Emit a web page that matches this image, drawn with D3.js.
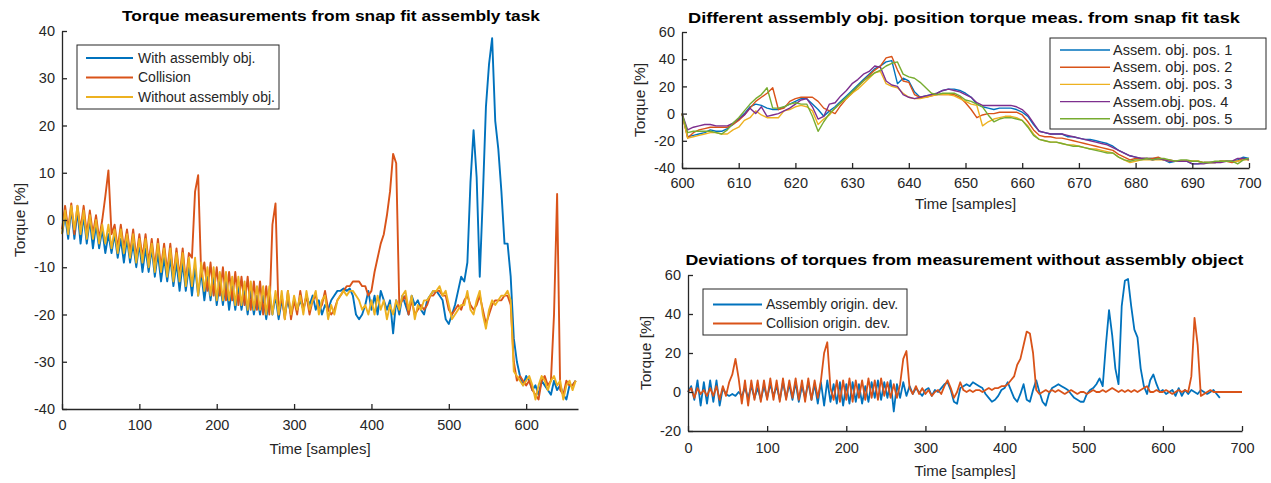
<!DOCTYPE html>
<html>
<head>
<meta charset="utf-8">
<script src="https://cdn.jsdelivr.net/npm/d3@7"></script>
<style>
body { margin: 0; background: #fff; }
svg text { font-family: "Liberation Sans", Arial, Helvetica, sans-serif; fill: #262626; }
</style>
</head>
<body>
<svg id="fig" width="1271" height="483"></svg>
<script>
// ---- left plot: torque, one value every 4 samples starting at 0
var sampleStep = 4;
var withObj = [-3,1,-4,2.5,-4,2,-5,1,-5,0, -6,-1,-6,-2,-7,-3,-7,-3,-8,-4, -9,-4,-9,-5,-10,-5,-11,-6,-11,-6,
  -12,-7,-13,-8,-13,-8,-14,-9,-15,-9, -15,-10,-16,-10,-16,-11,-17,-12,-17,-12, -18,-13,-18,-13,-19,-14,-19,-14,-19,-15,
  -20,-15,-20,-16,-20,-16,-21,-16,-20,-16, -21,-17,-20,-17,-20,
  -17,-19,-17,-19,-16,-18,-16,-19,-17,-20, -18,-19,-17,-16,-15,-15,-14.5,-15,-14.5,-16,
  -20,-21,-20,-18,-15,-19,-16,-20,-15,-17, -19,-17,-24,-17,-20,-16,-18,-20,-16,-18,
  -17,-19,-20,-17,-16,-15,-15,-16,-17,-21, -22,-20,-18,-15,-12,-13,-9,8,19,9,
  -12,5,24,33,38.5,21,15,6,-5,-5, -12,-25,-30,-33,-35,-33,-34,-36,-35,-37,
  -34,-35,-36,-37,-34,-36,-35,-37,-38,-35, -35,-34];
var collision = [-2,3,-2,3.5,-3,3,-2,3,-3,2, -3,1,-4,0,5,10.5,-3,-1,-6,-1, -6,-2,-7,-2,-8,-3,-8,-3,-9,-4,
  -10,-4,-10,-5,-11,-5,-12,-6,-12,-6, -13,-7,-8,6,9.5,-12,-9,-15,-9,-16, -10,-16,-10,-17,-11,-17,-11,-18,-12,-18,
  -12,-19,-13,-19,-13,-20,-14,-20,-1,3.5, -20,-16,-21,-15,-21,
  -17,-20,-15,-19,-16,-20,-17,-16,-19,-18, -15,-19,-20,-19,-17,-16,-15,-14,-14,-13,
  -13,-13,-14,-14,-16,-15,-11,-8,-5,-3, 1,6,14,12,-18,-17,-16,-20,-17,-20,
  -19,-18,-19,-18,-16,-16,-15,-15,-16,-16, -19,-20,-19,-18,-19,-17,-16,-18,-19,-18,
  -16,-19,-22,-20,-18,-17,-17,-17,-16,-16, -18,-30,-34,-33,-34,-35,-34,-36,-37,-38,
  -34,-33,-35,-34,-20,5.5,-36,-37,-34,-35, -35,-34];
var withoutObj = [-3,2,-3,3,-2,3,-3,2,-4,1, -4,0,-5,-1,-5,-1,-6,-2,-7,-2, -7,-3,-8,-3,-9,-4,-9,-4,-10,-5,
  -11,-5,-11,-6,-12,-6,-13,-7,-13,-7, -14,-8,-14,-8,-16,-9,-15,-10,-16,-10, -17,-11,-17,-11,-17,-12,-18,-12,-18,-13,
  -19,-13,-19,-14,-19,-14,-20,-14,-20,-15, -20,-15,-21,-15,-20,
  -16,-19,-16,-20,-15,-19,-17,-15,-20,-17, -16,-21,-18,-20,-17,-16,-15,-16,-15,-15,
  -16,-17,-19,-18,-20,-17,-20,-16,-19,-17, -21,-18,-20,-17,-19,-16,-15,-19,-16,-21,
  -18,-19,-17,-17,-16,-15,-15,-14,-16,-15, -18,-21,-20,-19,-18,-18,-15,-19,-20,-17,
  -15,-20,-23,-19,-17,-18,-17,-16,-16,-15, -17,-32,-33,-34,-35,-34,-33,-35,-38,-35,
  -33,-34,-36,-34,-33,-35,-34,-38,-35,-34, -36,-34];
var leftXTicks = [0,100,200,300,400,500,600];
var leftYTicks = [-40,-30,-20,-10,0,10,20,30,40];

// ---- top right: samples 600..700, one value per sample
var posStart = 600;
var pos1 = [0,-17,-16,-15,-14,-12,-13,-13,-11,-8, -4,0,5,7,6,4,3,3,5,7, 9,11,11,7,3,-2,2,5,9,13,
  17,21,25,29,33,35,38,39,22,26, 24,16,12,13,14,15,17,18,18,17, 15,12,7,5,4,3,4,4,4,3,
  1,-2,-8,-13,-14,-15,-15,-15,-17,-17, -18,-19,-19,-20,-21,-22,-24,-27,-29,-31,
  -32,-33,-33,-33,-33,-34,-36,-35,-35,-35, -37,-37,-36,-36,-36,-35,-35,-35,-34,-32, -33];
var pos2 = [0,-18,-14,-12,-11,-10,-10,-10,-10,-8, -5,-1,4,9,12,15,19,3,4,9, 11,12,12,12,9,4,2,0,6,11,
  15,20,24,28,32,35,41,42,32,24, 23,14,12,12,13,14,14,14,14,12, 8,3,-3,-1,0,0,1,1,1,1,
  -1,-6,-12,-16,-17,-17,-18,-18,-19,-20, -21,-22,-23,-24,-25,-26,-27,-30,-32,-34,
  -33,-33,-33,-33,-32,-34,-34,-35,-35,-35, -35,-35,-36,-36,-36,-35,-35,-36,-35,-33, -34];
var pos3 = [0,-18,-17,-16,-15,-14,-14,-15,-15,-12, -10,-5,-3,2,-1,-3,-3,-3,2,3, 5,6,5,2,-8,-4,-1,4,8,11,
  15,18,22,26,30,31,22,20,19,15, 12,11,11,12,13,14,14,14,13,11, 9,7,6,-9,-6,-4,-3,-2,-2,-3,
  -5,-9,-15,-19,-20,-21,-21,-22,-23,-23, -24,-25,-26,-26,-27,-28,-29,-32,-34,-36,
  -35,-34,-34,-34,-34,-34,-35,-35,-35,-35, -35,-35,-36,-36,-36,-35,-35,-35,-35,-34, -34];
var pos4 = [0,-12,-10,-9,-8,-8,-9,-9,-9,-7, -4,-1,4,0,5,-2,-1,0,2,4, 7,10,11,5,-4,-2,7,8,13,17,
  22,25,29,31,35,34,24,21,20,14, 12,11,12,13,14,15,17,18,17,16, 14,12,8,6,6,6,6,6,6,5,
  3,-1,-7,-13,-14,-15,-15,-15,-16,-17, -18,-19,-20,-21,-22,-23,-25,-27,-29,-31,
  -32,-33,-33,-34,-33,-34,-35,-35,-35,-35, -37,-37,-37,-36,-36,-36,-35,-35,-33,-33, -34];
var pos5 = [0,-14,-13,-13,-13,-13,-14,-15,-12,-7, -3,2,7,11,14,19,4,4,5,7, 8,7,7,-2,-13,-6,0,4,8,12,
  16,20,24,27,30,32,35,37,38,29, 27,26,23,19,15,14,15,15,15,13, 10,9,7,5,-1,-6,-4,-3,-3,-4,
  -5,-10,-16,-19,-20,-21,-21,-22,-23,-24, -24,-25,-26,-27,-28,-29,-29,-32,-34,-35,
  -34,-34,-33,-34,-33,-33,-34,-35,-34,-34, -35,-35,-36,-36,-35,-35,-35,-35,-37,-34, -33];
var posXTicks = [600,610,620,630,640,650,660,670,680,690,700];
var posYTicks = [-40,-20,0,20,40,60];

// ---- bottom right: deviations, one value every 4 samples starting at 0
var devAssembly = [0,3,-4,6,-7,5,-6,6,-5,6, -7,2,-1,-2,-1,-2,0,-2,2,-3, 3,-3,2,-4,3,-3,4,-2,3,-4,
  5,-3,4,-4,5,-5,3,-3,5,-4, 4,-6,5,-7,6,-5,4,-6,5,-7, 4,-6,5,-5,4,-6,3,-5,5,-3,
  6,-4,5,-3,6,-10,4,-3,5,-2, 3,-1,2,0,-2,1,2,-2,1,0, 2,4,5,1,-5,-6,2,3,4,3,
  5,4,3,2,-1,-3,-5,-4,-2,1, 2,5,1,-3,-5,-1,4,-4,-5,1, 6,0,-5,-7,-1,2,3,4,3,2,
  1,-1,-3,-4,-5,-5,-1,1,2,4, 7,3,24,42,29,12,4,44,57,58, 44,32,28,12,3,-1,6,9,4,0,
  1,-1,0,1,-2,2,-2,1,-1,1, 0,-1,1,0,-1,0,1,-1,-3];
var devCollision = [0,2,-3,2,-1,1,-2,2,-2,3, -4,3,-2,5,9,17,7,-6,6,-7, 6,-4,6,-5,6,-4,7,-4,6,-5,
  7,-4,6,-3,7,-4,6,-5,7,-4, 6,-3,6,20,25.5,2,-4,6,-5,6, -4,7,-5,6,-3,6,-4,7,-3,6,
  -4,7,-2,5,-3,4,-3,4,17,21, 2,-1,3,-1,2,-1,1,-2,0,1, -1,3,6,2,-3,0,5,1,0,1,
  0,1,1,0,1,2,1,2,2,3, 3,4,6,8,14,17,24,31,30,20, 1,-1,0,1,0,1,0,1,0,-1,
  0,1,0,-1,0,0,-1,0,1,0, 0,1,0,1,2,1,0,1,0,1, 0,1,0,1,2,3,0,0,1,0,
  0,1,0,-1,0,1,0,1,0,8, 38,24,-2,-1,0,1,0,0,0,0, 0,0,0,0,0,0];
var devXTicks = [0,100,200,300,400,500,600,700];
var devYTicks = [-20,0,20,40,60];

var blue = "#0072BD", red = "#D95319", yellow = "#EDB120", purple = "#7E2F8E", green = "#77AC30";

var svg = d3.select("#fig");

function drawPanel(p) {
  var x = d3.scaleLinear().domain(p.xDomain).range([p.left, p.right]);
  var y = d3.scaleLinear().domain(p.yDomain).range([p.bottom, p.top]);
  var g = svg.append("g");

  p.series.forEach(function(s) {
    var line = d3.line()
      .x(function(d, i) { return x(s.start + i * s.step); })
      .y(function(d) { return y(d); });
    g.append("path").datum(s.values)
      .attr("d", line)
      .attr("fill", "none")
      .attr("stroke", s.color)
      .attr("stroke-width", p.lineWidth)
      .attr("stroke-linejoin", "round");
  });

  var fmt = function(d) { return String(d); };
  var xa = g.append("g").attr("transform", "translate(0," + p.bottom + ")")
    .call(d3.axisBottom(x).tickValues(p.xTicks).tickFormat(fmt).tickSizeInner(-5).tickSizeOuter(0).tickPadding(p.xPad));
  var ya = g.append("g").attr("transform", "translate(" + p.left + ",0)")
    .call(d3.axisLeft(y).tickValues(p.yTicks).tickFormat(fmt).tickSizeInner(-5).tickSizeOuter(0).tickPadding(7));
  [xa, ya].forEach(function(a) {
    a.select(".domain").attr("stroke", "#262626").attr("stroke-width", 1.3);
    a.selectAll(".tick line").attr("stroke", "#262626").attr("stroke-width", 1.3);
    a.selectAll(".tick text").style("font-size", "14.5px").attr("fill", "#262626");
  });

  g.append("text").attr("x", p.titleX).attr("y", p.titleY)
    .attr("text-anchor", "middle").style("font-size", "15px").style("font-weight", "bold")
    .attr("textLength", p.titleW).attr("lengthAdjust", "spacingAndGlyphs")
    .style("fill", "#000").text(p.title);
  g.append("text").attr("x", (p.left + p.right) / 2).attr("y", p.xLabelY)
    .attr("text-anchor", "middle").style("font-size", "15px").text("Time [samples]");
  g.append("text").attr("transform", "translate(" + p.yLabelX + "," + (p.top + p.bottom) / 2 + ") rotate(-90)")
    .attr("text-anchor", "middle").style("font-size", "15.5px").text("Torque [%]");

  var L = p.legend;
  var lg = g.append("g");
  lg.append("rect").attr("x", L.x).attr("y", L.y).attr("width", L.w).attr("height", L.h)
    .attr("fill", "#fff").attr("stroke", "#262626").attr("stroke-width", 1);
  p.series.forEach(function(s, i) {
    var ry = L.y + L.first + i * L.gap;
    lg.append("line").attr("x1", L.x + L.l1).attr("x2", L.x + L.l2).attr("y1", ry).attr("y2", ry)
      .attr("stroke", s.color).attr("stroke-width", p.lineWidth);
    lg.append("text").attr("x", L.x + L.tx).attr("y", ry).attr("dy", "0.35em")
      .style("font-size", L.font + "px").text(s.name);
  });
}

drawPanel({
  left: 62, right: 578, top: 31, bottom: 409,
  xDomain: [0, 667], yDomain: [-40, 40], xTicks: leftXTicks, yTicks: leftYTicks, xPad: 11,
  title: "Torque measurements from snap fit assembly task", titleX: 331, titleW: 418, titleY: 21,
  xLabelY: 454, yLabelX: 25,
  lineWidth: 1.9,
  series: [
    {name: "With assembly obj.", values: withObj, start: 0, step: sampleStep, color: blue},
    {name: "Collision", values: collision, start: 0, step: sampleStep, color: red},
    {name: "Without assembly obj.", values: withoutObj, start: 0, step: sampleStep, color: yellow}
  ],
  legend: {x: 77, y: 45, w: 202, h: 64, first: 13, gap: 19.5, l1: 9, l2: 56, tx: 61, font: 14}
});

drawPanel({
  left: 682, right: 1249, top: 32, bottom: 168,
  xDomain: [600, 700], yDomain: [-40, 60], xTicks: posXTicks, yTicks: posYTicks, xPad: 10,
  title: "Different assembly obj. position torque meas. from snap fit task", titleX: 964, titleW: 552, titleY: 23,
  xLabelY: 209, yLabelX: 645,
  lineWidth: 1.4,
  series: [
    {name: "Assem. obj. pos. 1", values: pos1, start: posStart, step: 1, color: blue},
    {name: "Assem. obj. pos. 2", values: pos2, start: posStart, step: 1, color: red},
    {name: "Assem. obj. pos. 3", values: pos3, start: posStart, step: 1, color: yellow},
    {name: "Assem.obj. pos. 4", values: pos4, start: posStart, step: 1, color: purple},
    {name: "Assem. obj. pos. 5", values: pos5, start: posStart, step: 1, color: green}
  ],
  legend: {x: 1050, y: 38, w: 216, h: 91, first: 12, gap: 17.2, l1: 10, l2: 60, tx: 63, font: 14.5}
});

drawPanel({
  left: 688, right: 1242, top: 275, bottom: 431,
  xDomain: [0, 700], yDomain: [-20, 60], xTicks: devXTicks, yTicks: devYTicks, xPad: 12,
  title: "Deviations of torques from measurement without assembly object", titleX: 964.5, titleW: 558, titleY: 265,
  xLabelY: 476, yLabelX: 651,
  lineWidth: 1.8,
  series: [
    {name: "Assembly origin. dev.", values: devAssembly, start: 0, step: sampleStep, color: blue},
    {name: "Collision origin. dev.", values: devCollision, start: 0, step: sampleStep, color: red}
  ],
  legend: {x: 703, y: 289, w: 204, h: 46, first: 15.5, gap: 19, l1: 10, l2: 59, tx: 63, font: 14}
});
</script>
</body>
</html>
